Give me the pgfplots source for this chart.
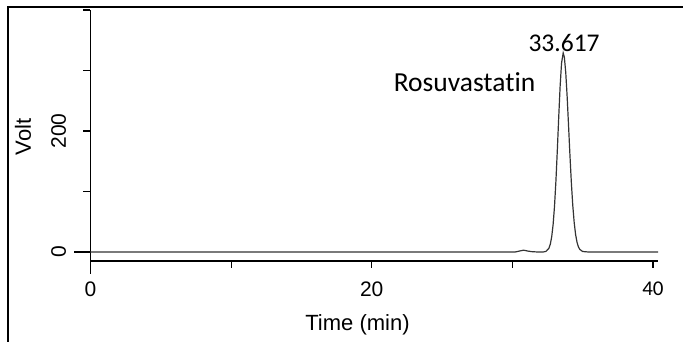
\documentclass[border=0pt]{standalone}
\usepackage{pgfplots}
\pgfplotsset{compat=1.18}
\usepackage{fontspec}
\setmainfont{Liberation Sans}
\newfontfamily\carlito[Ligatures=NoCommon]{Carlito}
\begin{document}
\begin{tikzpicture}
\useasboundingbox (0,0) rectangle (683pt,342pt);
\draw[line width=2pt] (8pt,0pt) -- (8pt,335pt) -- (683pt,335pt);
\begin{axis}[
  at={(90.5pt,81pt)}, anchor=south west,
  scale only axis, width=567.5pt, height=251pt,
  xmin=0, xmax=40.36, ymin=-14.9, ymax=400,
  axis lines*=left,
  axis line style={line width=1.4pt, -},
  tick align=outside, major tick length=7pt,
  tick style={line width=1.2pt, black},
  xtick={0,10,20,30,40}, xticklabels={0,,20,,{\carlito 40}},
  ytick={0,100,200,300,400}, yticklabels={0,,200,,},
  extra x ticks={0}, extra x tick labels={},
  extra x tick style={major tick length=13pt},
  extra y ticks={0}, extra y tick labels={},
  extra y tick style={major tick length=16pt},
  tick label style={font=\fontsize{21}{25}\selectfont},
  yticklabel style={rotate=90, anchor=south},
  xticklabel shift=10pt, yticklabel shift=14pt,
  xlabel={Time (min)}, ylabel={Volt},
  every axis x label/.style={at={(axis description cs:0.4705,-0.255)}, anchor=center, font=\fontsize{22}{26}\selectfont},
  every axis y label/.style={at={(axis description cs:-0.119,0.494)}, rotate=90, anchor=center, font=\fontsize{22}{26}\selectfont},
  clip=false,
]
\addplot[line width=1.2pt, color=black!80] coordinates {
(0,0) (30.2,0) (30.5,1.5) (30.8,3) (31.1,1.5) (31.4,0.5) (31.8,0) (32.2,0)
(32.4,1.1) (32.6,6.1) (32.7,12.8) (32.8,25.1) (32.9,45.3) (33.0,75.7) (33.1,117.4)
(33.2,168.2) (33.3,223.3) (33.4,274.3) (33.5,312.1) (33.617,329) (33.7,321.9)
(33.8,296.3) (33.9,256.2) (34.0,208.0) (34.1,158.7) (34.2,113.7) (34.3,76.5)
(34.4,48.4) (34.5,28.8) (34.6,16.1) (34.7,8.4) (34.8,4.2) (35.0,0.8) (35.4,0) (40.36,0)
};
\node[anchor=base, font=\carlito\fontsize{25.5}{30}\selectfont, inner sep=0pt] at (axis cs:33.68,330.6) {33.617};
\node[anchor=base, font=\carlito\fontsize{27.5}{32}\selectfont, inner sep=0pt] at (axis cs:26.6,264.5) {Rosuvastatin};
\end{axis}
\end{tikzpicture}
\end{document}
